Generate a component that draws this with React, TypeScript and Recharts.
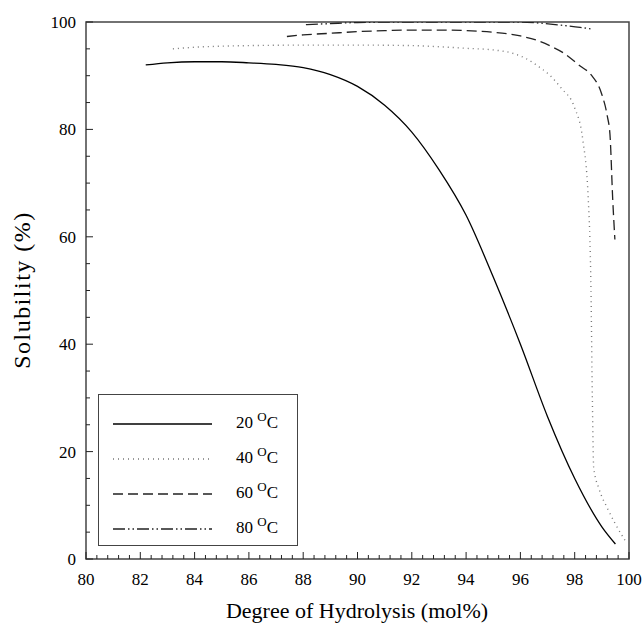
import { LineChart, Line, XAxis, YAxis, ReferenceArea } from 'recharts'

const FONT = '"Liberation Serif", "Times New Roman", serif'

// degree of hydrolysis (mol%) / solubility (%)
const hyd20 = [82.2, 83, 84, 85, 86, 87, 88, 89, 90, 91, 92, 93, 94, 95, 96, 97, 98, 99, 99.5]
const sol20 = [92.0, 92.4, 92.6, 92.6, 92.4, 92.1, 91.5, 90.2, 88.0, 84.5, 79.5, 72.5, 64.0, 52.5, 40.0, 26.5, 15.0, 6.0, 2.8]

const hyd40 = [83.2, 84, 85, 86, 88, 90, 92, 93, 94, 95, 95.7, 96.2, 96.7, 97.1, 97.5, 98.0, 98.3, 98.5, 98.6, 98.65, 98.7, 98.9, 99.2, 99.5, 99.85]
const sol40 = [95.0, 95.3, 95.5, 95.6, 95.7, 95.7, 95.6, 95.4, 95.1, 94.8, 94.2, 93.2, 91.6, 90.0, 87.7, 84.0, 78.0, 67.0, 50.0, 30.0, 17.0, 13.0, 9.5, 6.5, 3.5]

const hyd60 = [87.4, 88, 89, 90, 91, 92, 93, 94, 95, 96, 96.6, 97.2, 97.6, 98.2, 98.6, 99.0, 99.2, 99.3, 99.4, 99.48]
const sol60 = [97.3, 97.6, 97.9, 98.2, 98.4, 98.5, 98.5, 98.4, 98.1, 97.4, 96.6, 95.3, 94.2, 91.8, 90.2, 86.5, 82.5, 79.0, 67.0, 59.5]

const hyd80 = [88.1, 89, 90, 92, 94, 96, 96.7, 97.5, 98.2, 98.6]
const sol80 = [99.5, 99.7, 99.9, 100, 100, 100, 99.8, 99.4, 99.0, 98.7]

const xMajor = [80, 82, 84, 86, 88, 90, 92, 94, 96, 98, 100]
const yMajor = [0, 20, 40, 60, 80, 100]

// minor tick positions: every 0.4 on x, every 5 on y
const xTicks = Array.from({ length: 51 }, (_, i) => Math.round(800 + i * 4) / 10)
const yTicks = Array.from({ length: 21 }, (_, i) => i * 5)

const zip = (xs: number[], ys: number[]) => xs.map((x, i) => ({ x, y: ys[i] }))

const series = [
  { temp: '20', data: zip(hyd20, sol20), color: '#000', dash: undefined, width: 1.3 },
  { temp: '40', data: zip(hyd40, sol40), color: '#777', dash: '1 4', width: 1.4 },
  { temp: '60', data: zip(hyd60, sol60), color: '#222', dash: '10 5', width: 1.3 },
  { temp: '80', data: zip(hyd80, sol80), color: '#222', dash: '12 3 1.5 3 1.5 3', width: 1.3 },
]

function XTick({ x, y, payload }: any) {
  const v = payload.value
  const major = xMajor.some((m) => Math.abs(m - v) < 1e-6)
  return (
    <g>
      <line x1={x} y1={y} x2={x} y2={y - (major ? 7 : 4)} stroke="#222" strokeWidth={1} />
      {major && (
        <text x={x} y={y + 26} textAnchor="middle" fontFamily={FONT} fontSize={17} fill="#000">
          {v}
        </text>
      )}
    </g>
  )
}

function YTick({ x, y, payload }: any) {
  const v = payload.value
  const major = yMajor.includes(v)
  return (
    <g>
      <line x1={x} y1={y} x2={x + (major ? 7 : 4)} y2={y} stroke="#222" strokeWidth={1} />
      {major && (
        <text x={x - 10} y={y + 6} textAnchor="end" fontFamily={FONT} fontSize={17} fill="#000">
          {v}
        </text>
      )}
    </g>
  )
}

function LegendBox() {
  return (
    <div
      style={{
        position: 'absolute',
        left: 98,
        top: 394,
        width: 200,
        height: 152,
        border: '1.5px solid #444',
        boxSizing: 'border-box',
        background: '#fff',
        fontFamily: FONT,
        fontSize: 17,
      }}
    >
      {series.map((s, i) => (
        <div key={s.temp} style={{ position: 'absolute', left: 0, top: 18 + i * 35, height: 22, width: 200 }}>
          <svg width={110} height={22} style={{ position: 'absolute', left: 12, top: 0 }}>
            <line x1={2} y1={11} x2={101} y2={11} stroke={s.color} strokeWidth={s.width} strokeDasharray={s.dash} />
          </svg>
          <span style={{ position: 'absolute', left: 137, top: 0, whiteSpace: 'nowrap' }}>
            {s.temp} <sup style={{ fontSize: 13, verticalAlign: 7, lineHeight: 0 }}>O</sup>C
          </span>
        </div>
      ))}
    </div>
  )
}

export default function App() {
  return (
    <div style={{ position: 'absolute', left: 0, top: 0, width: 643, height: 631, background: '#fff' }}>
      <LineChart width={643} height={631} margin={{ top: 22, right: 14, left: 0, bottom: 0 }}>
        <XAxis
          dataKey="x"
          type="number"
          domain={[80, 100]}
          ticks={xTicks}
          interval={0}
          height={72}
          tickSize={0}
          tickMargin={0}
          tickLine={false}
          axisLine={false}
          tick={<XTick />}
          allowDataOverflow
        />
        <YAxis
          type="number"
          domain={[0, 100]}
          ticks={yTicks}
          interval={0}
          width={86}
          tickSize={0}
          tickMargin={0}
          tickLine={false}
          axisLine={false}
          tick={<YTick />}
          allowDataOverflow
        />
        <ReferenceArea x1={80} x2={100} y1={0} y2={100} fill="none" stroke="#444" strokeWidth={1.5} ifOverflow="visible" />
        {series.map((s) => (
          <Line
            key={s.temp}
            data={s.data}
            dataKey="y"
            type="monotone"
            stroke={s.color}
            strokeWidth={s.width}
            strokeDasharray={s.dash}
            dot={false}
            activeDot={false}
            isAnimationActive={false}
          />
        ))}
        <text x={24} y={290} transform="rotate(-90 24 290)" textAnchor="middle" dominantBaseline="middle" fontFamily={FONT} fontSize={24} letterSpacing={1.5}>
          Solubility (%)
        </text>
        <text x={357} y={618} textAnchor="middle" fontFamily={FONT} fontSize={22}>
          Degree of Hydrolysis (mol%)
        </text>
      </LineChart>
      <LegendBox />
    </div>
  )
}
